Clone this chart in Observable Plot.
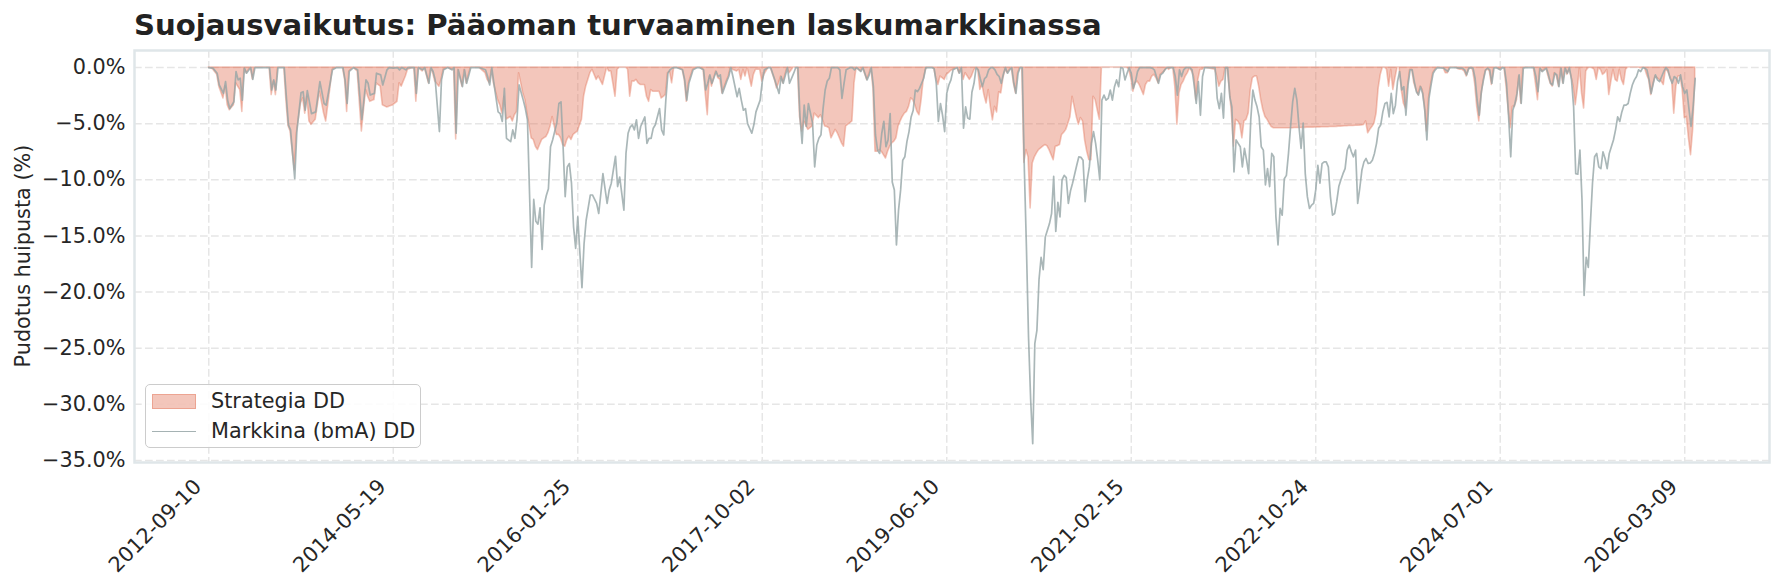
<!DOCTYPE html>
<html>
<head>
<meta charset="utf-8">
<script src="https://cdn.jsdelivr.net/npm/d3@7"></script>
<script src="https://cdn.jsdelivr.net/npm/@observablehq/plot@0.6"></script>
<style>
  html, body { margin: 0; padding: 0; background: #ffffff; }
  #wrap { position: relative; width: 1784px; height: 584px; font-family: "DejaVu Sans", sans-serif; color: #262626; overflow: hidden; }
  #chart { position: absolute; left: 0; top: 0; }
  #title { position: absolute; left: 134px; top: 11.2px; font-size: 29.17px; line-height: 29px; font-weight: bold; color: #222222; white-space: nowrap; }
  #ylabel { position: absolute; left: 23px; top: 256px; transform: translate(-50%, -50%) rotate(-90deg); font-size: 20.8px; line-height: 20.8px; white-space: nowrap; color: #262626; }
  #legend { position: absolute; left: 145px; top: 384px; width: 276px; height: 64px; border: 1.5px solid #cccccc; border-radius: 5px; background: rgba(255,255,255,0.85); box-sizing: border-box; }
  .lg-swatch { position: absolute; left: 6px; top: 9px; width: 44px; height: 15px; box-sizing: border-box; background: rgba(225,112,85,0.4); border: 1.6px solid rgba(225,112,85,0.4); }
  .lg-line { position: absolute; left: 6px; top: 46px; width: 44px; height: 0; border-top: 1.8px solid rgba(149,165,166,0.85); }
  .lg-text { position: absolute; left: 65px; font-size: 20.8px; line-height: 20.8px; white-space: nowrap; color: #262626; }
</style>
</head>
<body>
<div id="wrap">
  <div id="chart"></div>
  <div id="title">Suojausvaikutus: Pääoman turvaaminen laskumarkkinassa</div>
  <div id="ylabel">Pudotus huipusta (%)</div>
  <div id="legend">
    <div class="lg-swatch"></div>
    <div class="lg-text" style="top:6px">Strategia DD</div>
    <div class="lg-line"></div>
    <div class="lg-text" style="top:36px">Markkina (bmA) DD</div>
  </div>
</div>
<script>
// First weekly observation (Monday)
const startDate = "2012-09-10";

// Week number of each observation, counted from startDate
const weekIndex = [
  0,2,4,5,7,8,9,10,12,13,
  14,15,16,17,18,20,21,22,29,30,
  31,32,33,36,37,38,39,41,42,44,
  45,46,47,48,49,51,53,55,56,58,
  59,61,64,65,66,67,69,71,73,75,
  76,77,79,80,82,83,85,86,88,90,
  91,92,94,95,98,99,100,102,103,105,
  106,107,108,110,111,112,114,116,117,118,
  119,121,122,123,125,129,132,133,134,135,
  136,138,139,140,141,142,144,145,146,147,
  148,150,151,152,154,155,156,157,158,159,
  160,161,162,163,164,165,166,167,168,169,
  170,171,172,173,174,175,176,178,179,180,
  182,183,185,186,188,190,191,192,194,195,
  196,198,199,200,201,202,203,204,205,206,
  208,209,210,211,212,213,215,216,217,218,
  219,220,221,222,223,226,227,228,229,231,
  233,234,236,237,238,239,240,242,243,244,
  245,247,248,249,250,252,253,254,255,256,
  257,259,260,261,263,264,265,267,268,270,
  271,272,273,274,276,277,279,280,281,282,
  283,284,285,286,288,289,290,291,292,293,
  294,295,296,297,299,300,301,302,303,304,
  306,307,308,309,311,312,314,315,316,317,
  318,319,320,321,322,323,324,325,326,327,
  328,329,330,331,332,333,334,335,336,337,
  338,339,340,341,342,343,345,346,347,348,
  349,350,351,352,353,354,355,357,358,359,
  360,361,362,363,364,365,366,367,368,369,
  370,371,372,373,374,375,376,377,378,379,
  380,381,382,383,384,385,386,387,388,389,
  390,391,392,393,394,395,396,397,398,399,
  400,401,402,403,404,405,406,407,408,409,
  410,411,412,413,414,415,416,417,418,419,
  420,421,422,423,424,425,426,427,428,429,
  430,431,432,433,434,435,436,437,438,439,
  440,441,442,443,444,445,446,447,448,449,
  450,451,452,453,454,455,456,457,458,459,
  460,461,462,463,464,465,466,467,468,469,
  470,471,472,473,474,475,480,481,482,483,
  484,485,486,487,488,489,490,491,492,493,
  494,495,496,497,498,499,500,501,502,503,
  504,505,506,507,508,509,510,511,512,513,
  514,515,516,517,518,519,520,521,522,523,
  524,525,526,527,528,529,530,531,532,533,
  534,535,536,537,538,539,540,541,542,543,
  544,545,546,547,548,549,550,551,552,553,
  554,555,556,557,558,559,560,561,562,563,
  564,565,566,567,568,569,570,571,572,573,
  574,575,576,577,578,579,580,581,582,583,
  584,585,586,589,590,591,592,595,596,597,
  598,599,600,601,602,603,604,605,606,607,
  608,609,610,611,612,613,614,616,617,618,
  619,620,621,622,623,624,625,626,627,628,
  632,633,634,635,636,637,638,639,640,641,
  642,643,644,645,646,647,648,649,650,651,
  652,653,654,655,656,657,658,659,660,661,
  662,663,664,665,666,667,668,669,670,671,
  672,673,674,675,676,677,678,679,680,681,
  682,683,684,685,686,687,688,689,690,691,
  692,693,694,695,696,697,698,699,700,701,
  702,703,704,705,706,707,708,709
];

// Strategy drawdown from peak (%)
const strategyDD = [
  0,-0.15,-0.65,-1.7,-2.75,-1.7,-3.35,-3.8,-3.35,-1.4,
  -1.7,-2.0,-3.95,-0.05,-0.5,0,-1.05,0,0,-2.45,
  -1.25,-2.45,0,0,-2.9,-5.2,-5.7,-9.15,-5.85,-3.2,
  -2.75,-4.1,-2.6,-4.8,-5.1,-4.65,-2.15,-4.1,-4.8,-1.85,
  -0.2,0,0,-1.1,-3.95,-0.35,0,-0.35,-5.7,-2.0,
  -2.6,-3.05,-2.9,-1.4,-1.7,-3.35,-3.55,-3.5,-3.35,-3.05,
  -1.4,-1.7,-0.8,-0.2,0,-3.05,0,-0.35,0,-1.4,
  0,-0.5,-1.25,-1.7,-1.1,-0.2,0,-0.2,0,-6.4,
  -0.2,-1.7,-0.2,-1.4,0,0,-0.5,-1.1,-1.4,-0.2,
  -1.4,-2.9,-3.35,-4.1,-2.6,-4.65,-4.4,-4.8,-4.25,-3.95,
  -0.5,-2.3,-2.9,-4.1,-6.3,-6.45,-7.05,-7.35,-6.9,-6.45,
  -6.3,-6.2,-5.85,-5.25,-4.4,-5.25,-6.0,-6.0,-6.3,-6.9,
  -7.05,-6.45,-6.15,-6.45,-6.0,-5.85,-5.7,-4.65,-2.6,-1.7,
  -0.5,-0.2,-1.1,-0.8,-1.55,0,-0.35,-0.35,-2.6,-0.2,
  0,0,0,-0.2,-2.6,-1.25,-1.25,-1.1,-1.4,-1.55,
  -1.55,-2.6,-3.05,-2.0,-2.15,-2.15,-2.15,-2.75,-2.6,-2.45,
  -0.5,-0.4,-1.4,0,0,-0.2,-1.1,-3.05,-1.4,-0.2,
  0,0,-0.2,-2.3,-4.25,-0.8,-1.7,-0.35,-0.95,-1.1,
  -2.3,-1.25,-0.8,0,-0.2,-0.35,-0.2,-1.1,-0.2,-0.8,
  0,-1.7,-0.65,-0.2,-0.2,-1.25,-0.65,0,0,-1.1,
  -1.85,-1.4,-0.8,-1.4,0,-0.5,0,0,0,-4.4,
  -5.7,-4.8,-5.2,-5.55,-5.25,-4.1,-4.3,-4.5,-4.25,-4.7,
  -5.25,-5.3,-5.4,-6.3,-5.55,-5.85,-6.3,-6.75,-7.05,-5.25,
  -4.95,-4.8,-1.4,0,-0.35,0,-1.1,-0.65,0,-1.85,
  -7.5,-7.5,-7.35,-7.5,-7.8,-8.1,-7.5,-7.05,-6.75,-6.6,
  -6.3,-5.25,-4.8,-4.4,-4.1,-3.95,-3.5,-2.75,-2.9,-3.35,
  -3.95,-4.25,-2.9,-1.1,-0.2,0,0,-0.1,-0.95,-1.55,
  -0.8,-0.95,-1.1,-0.65,-0.5,-0.3,-0.2,0,-0.5,0,
  -1.1,-0.5,-0.8,-1.1,-0.8,-0.3,0,-0.2,-2.0,-1.5,
  -2.5,-3.2,-2.0,-3.5,-4.7,-3.5,-4.0,-2.2,-2.3,-1.0,
  -0.2,-0.5,-0.2,0,-1.4,-2.3,-0.5,0,0,-8.5,
  -7.35,-8.0,-12.55,-8.55,-8.0,-7.65,-7.35,-7.2,-7.05,-6.9,
  -7.0,-7.35,-7.8,-8.25,-7.05,-7.0,-6.9,-6.0,-5.8,-5.55,
  -5.0,-4.4,-2.6,-3.5,-4.4,-5.1,-4.5,-4.8,-6.5,-7.5,
  -8.25,-8.25,-2.6,-2.9,-3.8,-4.65,0,0,0,0,
  0,0,0,0,0,0,0,0,0,-0.2,
  -0.95,-2.15,-1.4,-1.25,-1.55,-2.0,-2.45,-1.55,-1.25,-1.25,
  -0.8,-0.65,-0.95,-1.4,-0.65,-0.5,-0.35,0,-0.2,-0.05,
  0,-1.7,-5.1,-2.3,-1.55,-1.25,-0.8,-0.5,-0.05,-0.35,
  -0.8,-2.9,-1.1,-0.2,-0.2,0,-0.2,-0.8,-1.7,-1.25,
  -1.1,0,-0.2,-2.0,-4.1,-7.05,-4.65,-4.8,-5.1,-6.3,
  -4.8,-4.65,-4.1,-2.0,-0.95,-0.8,-0.8,-1.7,-2.9,-3.8,
  -4.4,-4.65,-5.0,-5.3,-5.4,-5.4,-5.4,-5.4,-5.4,-5.4,
  -5.4,-5.4,-5.4,-5.4,-5.38,-5.38,-5.38,-5.38,-5.37,-5.37,
  -5.35,-5.35,-5.35,-5.35,-5.34,-5.33,-5.33,-5.32,-5.32,-5.31,
  -5.31,-5.3,-5.29,-5.29,-5.28,-5.26,-5.26,-5.25,-5.23,-5.23,
  -5.2,-5.2,-5.2,-5.18,-5.18,-5.17,-5.15,-5.12,-4.8,-5.85,
  -5.55,-5.3,-5.0,-4.1,-1.85,-0.65,0,0,-0.2,-1.7,
  -0.2,-2.0,-0.95,0,0,-2.0,-3.2,-3.65,-1.7,-0.2,
  -0.2,-1.4,-2.0,-2.45,-1.7,-2.0,-3.35,-5.7,-2.75,-1.55,
  -0.5,-0.2,0,-0.05,-0.5,-0.5,0,0,-0.15,-0.2,
  -0.2,-0.35,-0.8,-0.2,-0.05,-0.2,-1.4,-3.5,-4.8,-2.6,
  -1.25,-0.35,-0.15,-0.35,-1.55,-0.05,0,-0.2,0,0,
  -1.7,-3.8,-5.4,-3.5,-3.5,-2.9,-0.8,-3.2,-0.05,0,
  0,-1.4,-2.9,-0.05,-0.35,-0.2,-0.05,-0.8,-1.4,-1.7,
  -0.5,-0.8,-1.7,-0.05,-1.4,-0.05,-0.65,-0.2,-0.8,-1.7,
  -3.35,-1.85,0,-2.3,-3.65,-0.35,-0.05,0,-0.05,-0.2,
  -1.1,-0.05,-0.2,-0.65,-0.5,-0.2,-2.45,-1.25,-0.2,-1.1,
  -1.25,-0.2,-1.1,-1.55,-0.2,0,0,0,0,0,
  0,-0.05,0,-0.05,-0.65,-1.1,-2.45,-1.55,-0.8,-0.95,
  -1.1,-1.25,-1.55,-0.2,-0.35,-0.8,-1.25,-4.1,-1.7,-0.8,
  -0.8,-2.0,-4.5,-4.4,-6.3,-7.8,-5.55,-1.1
];

// Market (bmA) drawdown from peak (%)
const marketDD = [
  0,-0.05,-0.5,-1.55,-2.3,-1.25,-2.9,-3.65,-3.05,-0.35,
  -1.1,-0.95,-2.9,-0.05,-0.5,0,-1.05,0,0,-2.0,
  -1.1,-2.0,0,0,-2.6,-5.1,-5.55,-9.9,-5.7,-2.25,
  -2.15,-3.8,-2.05,-3.05,-4.1,-3.95,-1.25,-3.2,-3.35,-1.25,
  -0.2,0,0,-1.1,-3.2,-0.35,0,-0.2,-4.65,-1.1,
  -1.4,-2.45,-2.3,-0.5,-0.65,-1.55,-0.2,0,-0.05,0,
  -0.2,0,-0.2,0,0,-2.3,0,-0.2,0,-1.4,
  0,-0.35,-1.1,-5.7,-1.1,-0.2,0,-0.2,0,-5.85,
  -0.2,-1.7,-0.2,-1.4,0,0,-0.2,-0.8,-1.55,0,
  -1.4,-3.95,-4.1,-4.8,-1.85,-6.3,-6.6,-5.55,-6.3,-4.65,
  -1.55,-2.9,-3.65,-4.65,-17.8,-11.75,-13.7,-13.95,-12.5,-16.2,
  -12.25,-11.4,-10.8,-7.05,-6.45,-5.7,-4.95,-3.2,-3.05,-7.05,
  -11.5,-8.85,-8.55,-10.3,-14.2,-16.1,-13.3,-19.6,-15.7,-13.6,
  -11.35,-11.35,-12.1,-13.0,-9.45,-12.1,-10.9,-10.3,-7.9,-10.6,
  -9.75,-12.7,-7.65,-5.85,-5.3,-5.1,-5.55,-4.65,-6.3,-5.25,
  -4.4,-6.75,-6.3,-6.3,-5.4,-5.1,-3.65,-5.55,-6.0,-2.9,
  -0.5,-0.2,-0.05,0,0,-0.2,-1.1,-2.9,-1.4,-0.2,
  0,0,-0.2,-2.0,-1.4,-0.65,-1.4,-0.35,-0.8,-0.65,
  -2.3,-1.25,-0.8,0,-0.8,-2.6,-1.85,-2.9,-3.8,-3.65,
  -5.0,-5.85,-5.1,-3.95,-2.9,-1.25,-0.2,0,0,-1.1,
  -1.7,-2.3,-0.8,-1.4,0,-1.4,-0.5,0,0,-4.4,
  -6.75,-3.35,-5.25,-3.2,-4.95,-8.85,-6.9,-6.3,-6.0,-3.65,
  -2.0,-1.2,-0.95,0,0,0,-0.2,-2.75,-1.4,-0.2,
  0,0,-0.2,0,-0.35,0,-1.1,-0.65,0,-1.7,
  -6.0,-7.35,-7.65,-5.85,-4.8,-7.05,-6.45,-4.1,-10.2,-10.9,
  -15.8,-12.7,-10.9,-8.25,-7.95,-6.6,-5.7,-4.4,-3.8,-2.0,
  -2.15,-1.85,-1.4,-0.95,0,0,0,-0.1,-1.4,-4.8,
  -3.2,-4.25,-5.7,-2.3,-1.55,-1.1,-0.2,0,-0.5,0,
  -5.4,-3.5,-4.5,-4.6,-2.2,-1.4,0,-0.2,-1.0,-1.7,
  -1.0,-0.8,-0.2,0,0,-0.2,-0.6,-0.8,-1.4,-0.6,
  0,-0.5,-0.2,0,-1.4,-2.3,-0.5,0,0,-9.0,
  -16.0,-24.0,-29.5,-33.5,-24.6,-23.4,-18.9,-16.9,-18.0,-15.1,
  -14.5,-13.9,-13.0,-9.7,-14.6,-12.0,-13.3,-10.0,-9.6,-9.8,
  -12.1,-11.0,-10.3,-9.5,-8.7,-7.95,-8.0,-8.25,-11.95,-10.0,
  -8.85,-6.75,-5.7,-6.75,-8.25,-10.0,-2.9,-2.45,-2.9,-2.75,
  -2.0,-2.9,-1.7,-1.1,-1.7,0,-0.05,-1.1,-0.5,0,
  -0.5,-1.85,-1.25,-0.35,0,0,0,0,0,0,
  -0.05,-0.2,-0.8,-1.4,-0.65,-0.5,-0.2,0,0,0,
  0,-0.8,-2.45,-0.2,-0.8,-0.2,0,0,0,-0.2,
  -1.55,-3.2,-1.25,-4.25,-0.8,0,0,-2.75,-3.65,-2.3,
  -4.5,0,0,-2.6,-3.5,-9.3,-6.45,-6.75,-7.05,-8.85,
  -7.2,-8.25,-9.45,-4.65,-2.0,-2.9,-3.5,-4.4,-7.05,-7.35,
  -10.45,-9.0,-10.6,-7.65,-7.95,-13.3,-15.8,-12.55,-13.15,-9.9,
  -9.6,-7.65,-5.25,-3.05,-1.85,-2.9,-5.25,-7.2,-4.95,-9.45,
  -11.5,-12.55,-12.25,-12.1,-10.9,-8.7,-10.3,-8.55,-8.4,-8.4,
  -8.85,-11.5,-13.15,-13.0,-11.95,-10.6,-10.0,-9.45,-9.0,-7.35,
  -6.9,-7.5,-7.95,-7.35,-12.1,-10.75,-9.15,-8.4,-8.1,-8.55,
  -8.5,-8.25,-7.65,-6.75,-5.4,-5.1,-3.95,-3.2,-3.1,-4.4,
  -2.3,-4.1,-3.35,-1.25,-0.35,-2.0,-1.7,-4.25,-1.55,-0.2,
  -0.2,-1.25,-2.15,-2.45,-1.7,-2.3,-3.8,-6.45,-2.75,-1.55,
  -0.5,-0.2,0,-0.05,-0.2,-0.35,0,0,-0.05,-0.05,
  -0.05,-0.2,-0.65,-0.05,0,-0.05,-0.95,-2.9,-4.25,-2.15,
  -1.1,-0.2,-0.05,-0.2,-1.4,-0.05,0,-0.2,0,-0.05,
  -1.4,-4.4,-7.95,-3.8,-3.2,-2.3,-0.65,-3.2,-0.05,0,
  0,-0.8,-2.15,-0.05,-0.35,-0.2,-0.05,-0.65,-1.4,-1.55,
  -0.5,-0.65,-1.7,-0.05,-1.4,-0.05,-0.5,0,-1.1,-3.5,
  -9.45,-9.5,-7.35,-11.8,-20.3,-16.9,-17.8,-13.9,-10.3,-7.95,
  -7.65,-8.85,-9.0,-7.5,-8.1,-9.0,-7.65,-7.05,-6.45,-5.55,
  -4.4,-4.8,-3.95,-3.35,-3.35,-3.2,-2.3,-1.55,-1.1,-0.8,
  -0.2,-0.35,0,-0.05,-0.2,-1.1,-2.3,-1.4,-0.65,-1.1,
  -1.25,-0.8,-0.35,0,-0.2,-0.95,-1.4,-0.8,-0.95,-1.4,
  -0.65,-1.7,-2.3,-2.0,-3.65,-5.25,-3.5,-0.95
];

// Axis ticks
const xTickLabels = ["2012-09-10","2014-05-19","2016-01-25","2017-10-02","2019-06-10","2021-02-15","2022-10-24","2024-07-01","2026-03-09"];
const yTicks = [0,-5,-10,-15,-20,-25,-30,-35];
const xDomain = ["2012-01-06","2026-12-17"];
const yDomain = [-35.18, 1.52];

const start = d3.isoParse(startDate);
const table = weekIndex.map((w, i) => ({
  date: d3.utcDay.offset(start, w * 7),
  strategy: strategyDD[i],
  market: marketDD[i]
}));
const xTicks = xTickLabels.map(d3.isoParse);
const fmtPct = d3.format(".1f");

const chart = Plot.plot({
  width: 1784,
  height: 584,
  marginTop: 50,
  marginBottom: 122,
  marginLeft: 134,
  marginRight: 15,
  style: { fontFamily: "DejaVu Sans, sans-serif", fontSize: "20.8px", color: "#262626", background: "transparent", overflow: "visible" },
  x: { type: "utc", domain: xDomain.map(d3.isoParse) },
  y: { domain: yDomain },
  marks: [
    Plot.gridX(xTicks, { stroke: "#e6e6e6", strokeOpacity: 1, strokeWidth: 1.5, strokeDasharray: "7.7,3.3" }),
    Plot.gridY(yTicks, { stroke: "#e6e6e6", strokeOpacity: 1, strokeWidth: 1.5, strokeDasharray: "7.7,3.3" }),
    Plot.areaY(table, { x: "date", y1: 0, y2: "strategy", fill: "#e17055", fillOpacity: 0.4, stroke: "#e17055", strokeOpacity: 0.4, strokeWidth: 1.6 }),
    Plot.lineY(table, { x: "date", y: "market", stroke: "#95a5a6", strokeOpacity: 0.8, strokeWidth: 1.7 }),
    Plot.frame({ stroke: "#dfe6e9", strokeWidth: 2.5 }),
    Plot.axisY(yTicks, { tickSize: 0, tickPadding: 9, tickFormat: d => fmtPct(d) + "%", label: null, fill: "#262626" }),
    Plot.axisX(xTicks, { tickSize: 0, tickPadding: 20.7, dx: -10.8, tickRotate: -45, textAnchor: "end", tickFormat: d3.utcFormat("%Y-%m-%d"), label: null, fill: "#262626" })
  ]
});
document.getElementById("chart").appendChild(chart);
</script>
</body>
</html>
